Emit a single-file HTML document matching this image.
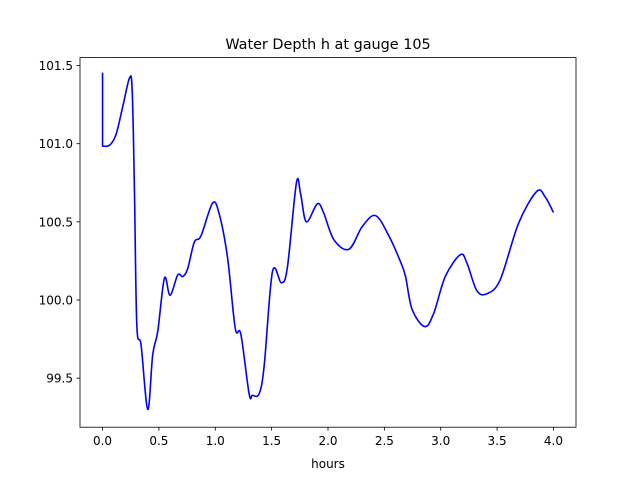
<!DOCTYPE html>
<html><head><meta charset="utf-8"><style>
body{margin:0;background:#fff}
svg text{font-family:"DejaVu Sans","Liberation Sans",sans-serif;fill:#000}
</style></head><body>
<svg width="640" height="480" xmlns="http://www.w3.org/2000/svg">
<rect width="640" height="480" fill="#fff"/>
<text x="328" y="49" font-size="14.4" text-anchor="middle">Water Depth h at gauge 105</text>
<g id="ticks"></g>
<path id="line" fill="none" stroke="#0000ff" stroke-width="1.6" stroke-linejoin="round"/>
<rect x="80" y="57.6" width="496" height="369.6" fill="none" stroke="#000" stroke-width="0.8"/>
<text x="328" y="468" font-size="12" text-anchor="middle">hours</text>
</svg>
<script>
const hours=[0,0,0.062,0.12,0.18,0.239,0.263,0.283,0.304,0.342,0.401,0.445,0.49,0.549,0.599,0.667,0.711,0.755,0.814,0.873,0.976,1.035,1.109,1.177,1.227,1.30,1.33,1.389,1.434,1.507,1.587,1.64,1.72,1.758,1.808,1.905,1.96,2.053,2.186,2.304,2.422,2.54,2.643,2.688,2.746,2.858,2.938,3.04,3.174,3.233,3.32,3.41,3.528,3.69,3.852,3.926,4.0];
const depth=[101.455,100.985,100.99,101.06,101.24,101.42,101.34,100.70,99.84,99.71,99.30,99.65,99.80,100.14,100.03,100.16,100.15,100.20,100.37,100.41,100.62,100.55,100.27,99.82,99.78,99.40,99.39,99.40,99.58,100.18,100.11,100.21,100.75,100.675,100.50,100.615,100.56,100.385,100.325,100.47,100.54,100.41,100.245,100.15,99.94,99.83,99.915,100.15,100.29,100.235,100.06,100.04,100.13,100.49,100.695,100.66,100.56];
const xTicks=[0,0.5,1,1.5,2,2.5,3,3.5,4];
const yTicks=[99.5,100,100.5,101,101.5];
const X0=80,X1=576,Y0=427.2,Y1=57.6,xmin=-0.2,xmax=4.2,ymin=99.186,ymax=101.551;
const sx=v=>X0+(v-xmin)/(xmax-xmin)*(X1-X0);
const sy=v=>Y0-(v-ymin)/(ymax-ymin)*(Y0-Y1);
const NS="http://www.w3.org/2000/svg";
const g=document.getElementById('ticks');
function mk(t,a){const e=document.createElementNS(NS,t);for(const k in a)e.setAttribute(k,a[k]);g.appendChild(e);return e;}
xTicks.forEach(v=>{const x=sx(v);
 const l=mk('line',{x1:x,x2:x,y1:427.2,y2:430.7,stroke:'#000','stroke-width':0.8});
 
 
 const t=mk('text',{x:x,y:445,'font-size':12,'text-anchor':'middle'});t.textContent=v.toFixed(1);
 
 });
yTicks.forEach(v=>{const y=sy(v);
 const l=mk('line',{x1:76.5,x2:80,y1:y,y2:y,stroke:'#000','stroke-width':0.8});
 
 
 const t=mk('text',{x:73,y:y+4.5,'font-size':12,'text-anchor':'end'});t.textContent=v.toFixed(1);
 
 });
const P=hours.map((h,i)=>[sx(h),sy(depth[i])]);
let d=`M${P[0][0]},${P[0][1]} L${P[1][0]},${P[1][1]}`;
for(let i=1;i<P.length-1;i++){
 const p0=P[Math.max(1,i-1)],p1=P[i],p2=P[i+1],p3=P[Math.min(P.length-1,i+2)];
 const c1=[p1[0]+(p2[0]-p0[0])/6,p1[1]+(p2[1]-p0[1])/6];
 const c2=[p2[0]-(p3[0]-p1[0])/6,p2[1]-(p3[1]-p1[1])/6];
 d+=` C${c1[0]},${c1[1]} ${c2[0]},${c2[1]} ${p2[0]},${p2[1]}`;
}
document.getElementById('line').setAttribute('d',d);
</script>
</body></html>
